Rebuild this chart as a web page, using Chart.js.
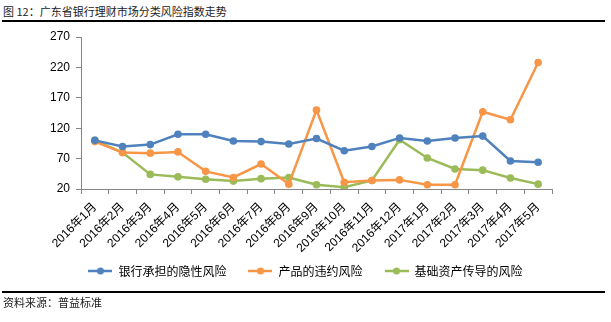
<!DOCTYPE html>
<html>
<head>
<meta charset="utf-8">
<script src="https://cdn.jsdelivr.net/npm/chart.js@4.4.1/dist/chart.umd.min.js"></script>
<style>
  html, body { margin: 0; padding: 0; background: #fff; }
  #wrap { position: relative; width: 611px; height: 322px; overflow: hidden; }
  #chartBox { position: absolute; left: 0; top: 0; width: 611px; height: 322px; }
  .note { position: absolute; left: 3px; font-family: 'Noto Sans CJK SC', sans-serif; font-size: 11px; color: #222; white-space: nowrap; }
  .rule { position: absolute; left: 2px; width: 603px; height: 2px; background: #000; }
</style>
</head>
<body>
<div id="wrap">
  <div class="note" style="top:3px;">图 12：广东省银行理财市场分类风险指数走势</div>
  <div class="rule" style="top:20px;"></div>
  <div id="chartBox"><canvas id="riskChart"></canvas></div>
  <div class="rule" style="top:291px;"></div>
  <div class="note" style="top:294px;">资料来源：普益标准</div>
</div>
<script>
// months on the x axis
const months = ['2016年1月', '2016年2月', '2016年3月', '2016年4月', '2016年5月', '2016年6月',
    '2016年7月', '2016年8月', '2016年9月', '2016年10月', '2016年11月', '2016年12月',
    '2017年1月', '2017年2月', '2017年3月', '2017年4月', '2017年5月'];

// series values
const bankRisk = [100, 90, 93, 110, 110, 99, 98, 94, 103, 83, 90, 104, 99, 104, 107, 66, 64];
const productRisk = [98, 80, 79, 81, 49, 39, 61, 28, 150, 31, 34, 35, 27, 27, 147, 134, 228];
const assetRisk = [100, 80, 44, 40, 36, 33, 37, 39, 27, 23, 34, 101, 71, 53, 51, 38, 28];

const seriesNames = ['银行承担的隐性风险', '产品的违约风险', '基础资产传导的风险'];
const yTicks = [20, 70, 120, 170, 220, 270];

const colors = ['#4F81BD', '#F79646', '#9BBB59'];
const axisGray = '#868686';
const fontFamily = "'Liberation Sans', 'Noto Sans CJK SC', sans-serif";

// legend marker: short line with a dot in the middle
function legendMarker(color) {
    const c = document.createElement('canvas');
    c.width = 24;
    c.height = 10;
    const g = c.getContext('2d');
    g.strokeStyle = color;
    g.lineWidth = 2.5;
    g.beginPath();
    g.moveTo(0, 5);
    g.lineTo(24, 5);
    g.stroke();
    g.fillStyle = color;
    g.beginPath();
    g.arc(12, 5, 3.5, 0, Math.PI * 2);
    g.fill();
    return c;
}

function makeSet(label, data, color) {
    return {
        label: label,
        data: data,
        borderColor: color,
        backgroundColor: color,
        borderWidth: 2.5,
        pointRadius: 3.8,
        pointHoverRadius: 4,
        pointBackgroundColor: color,
        pointBorderColor: color,
        pointBorderWidth: 0,
        tension: 0,
        fill: false
    };
}

const ctx = document.getElementById('riskChart').getContext('2d');
new Chart(ctx, {
    type: 'line',
    data: {
        labels: months,
        datasets: [
            makeSet(seriesNames[0], bankRisk, colors[0]),
            makeSet(seriesNames[1], productRisk, colors[1]),
            makeSet(seriesNames[2], assetRisk, colors[2])
        ]
    },
    options: {
        responsive: true,
        maintainAspectRatio: false,
        animation: false,
        layout: {
            padding: { left: 0, right: 0, top: 37, bottom: 35 }
        },
        plugins: {
            tooltip: { enabled: false },
            legend: {
                position: 'bottom',
                labels: {
                    usePointStyle: true,
                    pointStyleWidth: 24,
                    padding: 22,
                    color: '#000',
                    font: { family: "'Noto Sans CJK SC', sans-serif", size: 12 },
                    generateLabels: function (chart) {
                        return chart.data.datasets.map(function (ds, i) {
                            return {
                                text: ds.label,
                                pointStyle: legendMarker(colors[i]),
                                fillStyle: colors[i],
                                strokeStyle: colors[i],
                                lineWidth: 0,
                                fontColor: '#000',
                                datasetIndex: i
                            };
                        });
                    }
                }
            }
        },
        scales: {
            x: {
                offset: true,
                afterFit: function (scale) {
                    scale.height = 54;
                    // labels run a little past the fixed height, so don't clip them
                    scale._computeLabelArea = function () { return undefined; };
                },
                grid: {
                    offset: true,
                    drawOnChartArea: false,
                    drawTicks: true,
                    tickLength: 5,
                    color: axisGray
                },
                border: { display: true, color: axisGray, width: 1 },
                ticks: {
                    minRotation: 45,
                    maxRotation: 45,
                    autoSkip: false,
                    padding: 6,
                    color: '#000',
                    font: { family: fontFamily, size: 12 }
                }
            },
            y: {
                min: 20,
                max: 270,
                afterFit: function (scale) { scale.width = 81; },
                afterBuildTicks: function (scale) {
                    scale.ticks = yTicks.map(function (v) { return { value: v }; });
                },
                grid: {
                    drawOnChartArea: false,
                    drawTicks: true,
                    tickLength: 5,
                    color: axisGray
                },
                border: { display: true, color: axisGray, width: 1 },
                ticks: {
                    padding: 6,
                    color: '#000',
                    font: { family: fontFamily, size: 12 }
                }
            },
            // empty right-hand axis, only reserves the white space right of the plot
            spacer: {
                position: 'right',
                min: 20,
                max: 270,
                afterFit: function (scale) { scale.width = 59; },
                grid: { display: false },
                border: { display: false },
                ticks: { display: false }
            }
        }
    }
});
</script>
</body>
</html>
